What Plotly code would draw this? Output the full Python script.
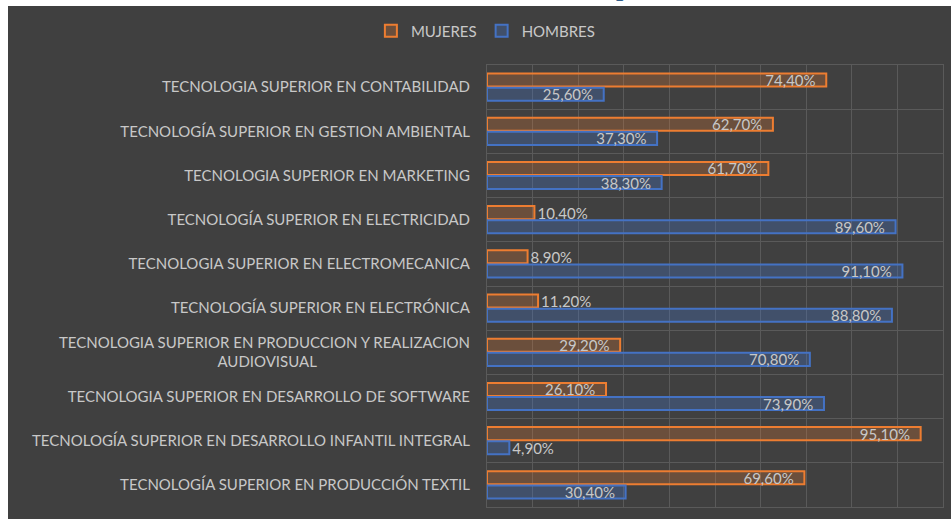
import plotly.graph_objects as go

categories = [
    "TECNOLOGIA SUPERIOR EN CONTABILIDAD",
    "TECNOLOGÍA SUPERIOR EN GESTION AMBIENTAL",
    "TECNOLOGIA SUPERIOR EN MARKETING",
    "TECNOLOGÍA SUPERIOR EN ELECTRICIDAD",
    "TECNOLOGIA SUPERIOR EN ELECTROMECANICA",
    "TECNOLOGÍA SUPERIOR EN ELECTRÓNICA",
    "TECNOLOGIA SUPERIOR EN PRODUCCION Y REALIZACION<br>AUDIOVISUAL" + "\u00a0" * 40,
    "TECNOLOGIA SUPERIOR EN DESARROLLO DE SOFTWARE",
    "TECNOLOGÍA SUPERIOR EN DESARROLLO INFANTIL INTEGRAL",
    "TECNOLOGÍA SUPERIOR EN PRODUCCIÓN TEXTIL",
]
mujeres = [0.744, 0.627, 0.617, 0.104, 0.089, 0.112, 0.292, 0.261, 0.951, 0.696]
hombres = [0.256, 0.373, 0.383, 0.896, 0.911, 0.888, 0.708, 0.739, 0.049, 0.304]

BG = "#404040"
GRID = "#5a5a5a"
TXT = "#c8c8c8"
FONT = "Lato"


def positions(vals):
    return ["outside" if v < 0.15 else "inside" for v in vals]


fig = go.Figure()
fig.add_trace(go.Bar(
    name="MUJERES", y=categories, x=mujeres, orientation="h",
    marker=dict(color="rgba(237,125,49,0.25)", line=dict(color="#ED7D31", width=2)),
    texttemplate="%{x:.2%}\u00a0\u00a0", textposition=positions(mujeres),
    insidetextanchor="end", textfont=dict(color=TXT, size=15, family=FONT),
    constraintext="none",
))
fig.add_trace(go.Bar(
    name="HOMBRES", y=categories, x=hombres, orientation="h",
    marker=dict(color="rgba(68,114,196,0.32)", line=dict(color="#4472C4", width=2)),
    texttemplate="%{x:.2%}\u00a0\u00a0", textposition=positions(hombres),
    insidetextanchor="end", textfont=dict(color=TXT, size=15, family=FONT),
    constraintext="none",
))

# pixel -> paper conversions for the frame (plot area x 487..943, y 65..507)
def px(x):
    return (x - 487) / 456


def py(y):
    return (507 - y) / 442


fig.update_layout(
    width=951, height=519,
    margin=dict(l=487, r=8, t=65, b=12, autoexpand=False),
    paper_bgcolor="white", plot_bgcolor=BG,
    separators=",.",
    barmode="group", bargap=0.36, bargroupgap=0.08,
    uniformtext=dict(minsize=15, mode="show"),
    font=dict(family=FONT, color=TXT, size=15),
    showlegend=True,
    legend=dict(orientation="h", xref="container", yref="container",
                x=0.39, xanchor="left", y=1 - 31 / 519, yanchor="middle",
                bgcolor="rgba(0,0,0,0)",
                font=dict(color=TXT, size=15, family=FONT),
                itemwidth=30, tracegroupgap=0),
    shapes=[dict(type="rect", xref="paper", yref="paper",
                 x0=px(8), x1=px(960), y0=py(6), y1=py(530),
                 fillcolor=BG, line=dict(width=0), layer="below")],
    annotations=[dict(text="<b>p</b>", xref="paper", yref="paper",
                      x=px(614), y=py(4), xanchor="left", yanchor="bottom",
                      showarrow=False,
                      font=dict(family="Liberation Serif", size=26, color="#2f5d8a"))],
)
fig.update_xaxes(range=[0, 1], dtick=0.1, showticklabels=False,
                 showgrid=True, gridcolor=GRID, gridwidth=1,
                 zeroline=False, showline=True, linecolor=GRID, mirror=True)
fig.update_yaxes(autorange="reversed", tickson="boundaries", showgrid=True,
                 gridcolor=GRID, gridwidth=1, ticks="", ticklen=0,
                 ticklabelstandoff=13,
                 showline=True, linecolor=GRID, mirror=True, automargin=False,
                 tickfont=dict(color=TXT, size=15, family=FONT))

fig.write_html("out.html", config={"displayModeBar": False},
               post_script="document.body.style.margin='0';")
